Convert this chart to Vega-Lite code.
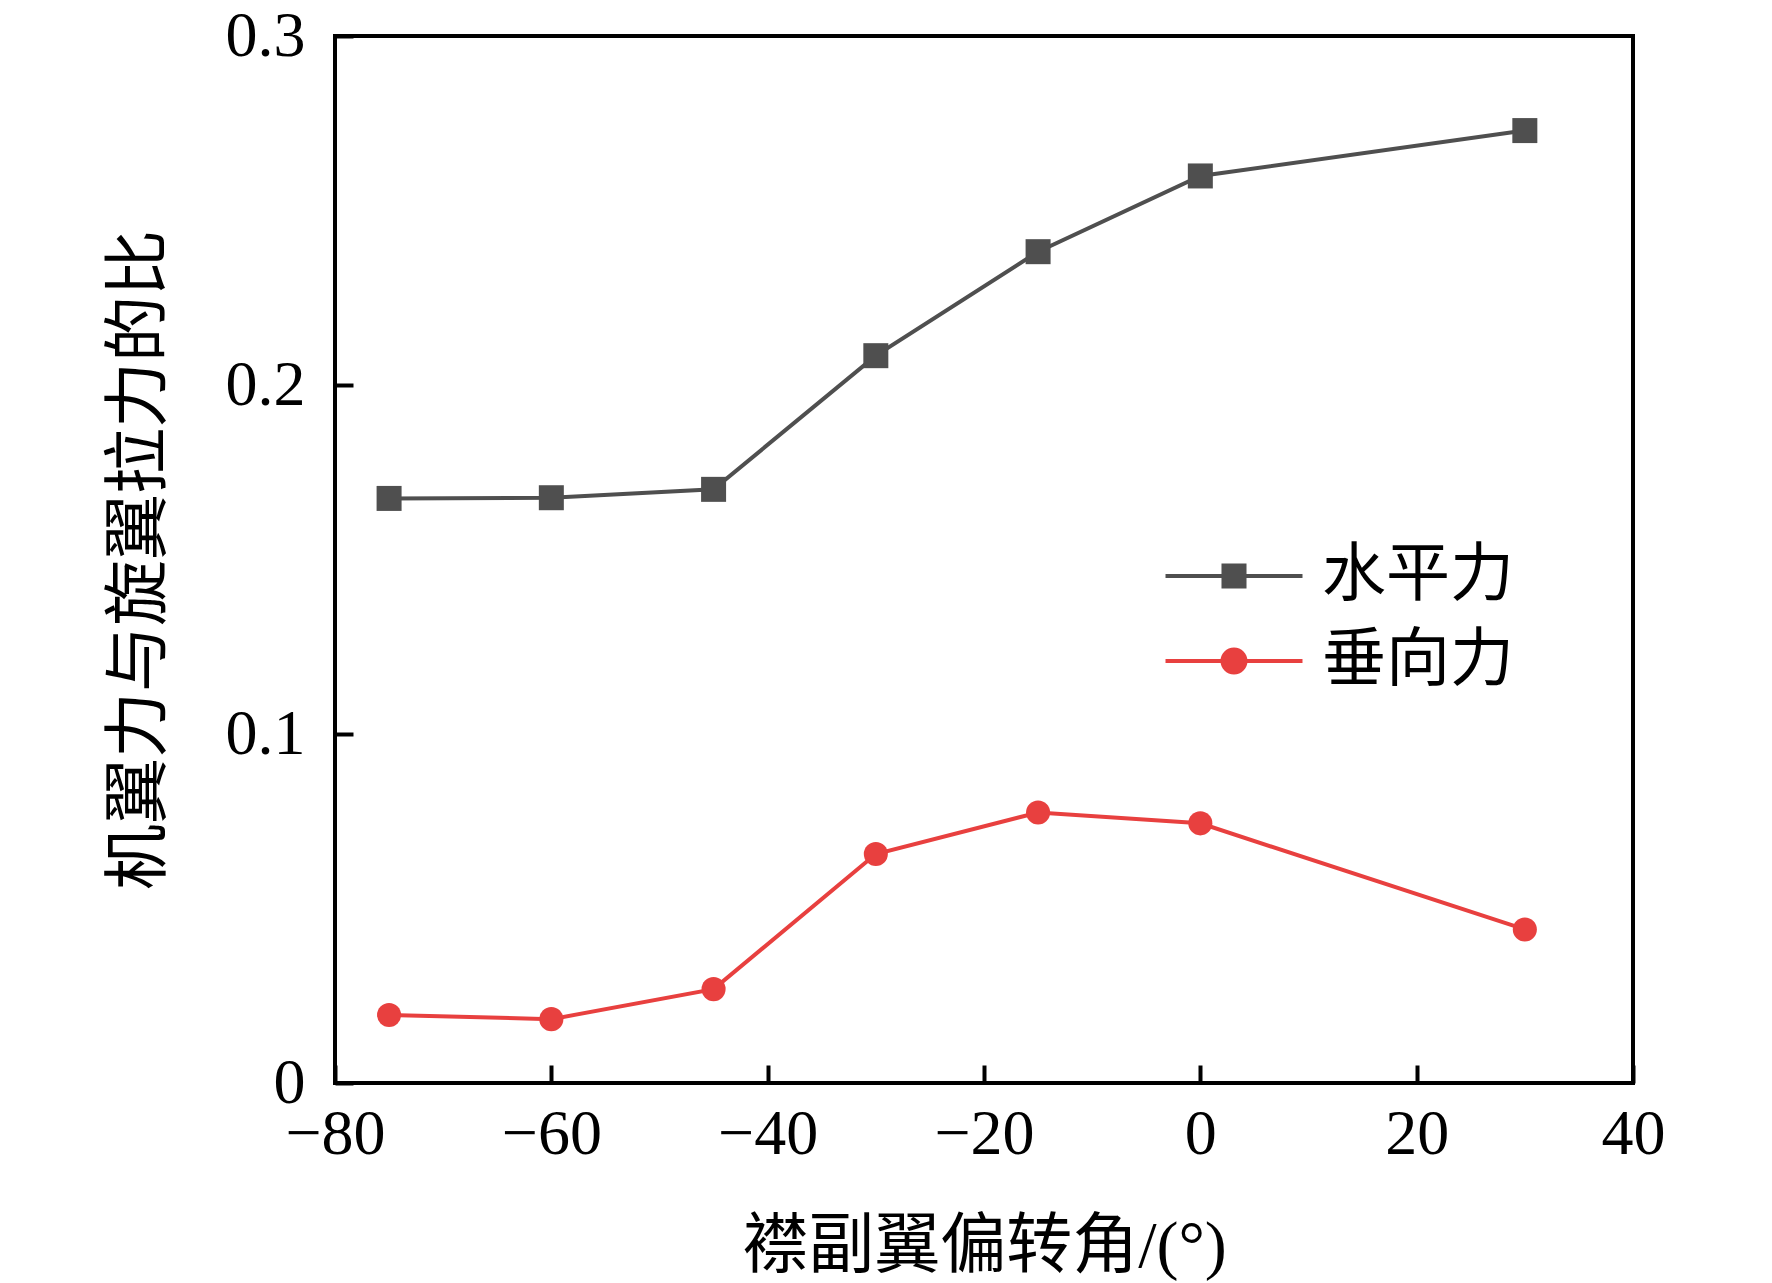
{
  "$schema": "https://vega.github.io/schema/vega-lite/v6.json",
  "width": 1298,
  "height": 1047,
  "autosize": "none",
  "padding": {"left": 335, "top": 36, "right": 139, "bottom": 200},
  "background": "white",
  "data": {
    "values": [
      {"angle": -75, "ratio": 0.1675, "series": "水平力"},
      {"angle": -60, "ratio": 0.1677, "series": "水平力"},
      {"angle": -45, "ratio": 0.1701, "series": "水平力"},
      {"angle": -30, "ratio": 0.2084, "series": "水平力"},
      {"angle": -15, "ratio": 0.2382, "series": "水平力"},
      {"angle": 0, "ratio": 0.2599, "series": "水平力"},
      {"angle": 30, "ratio": 0.2729, "series": "水平力"},
      {"angle": -75, "ratio": 0.0195, "series": "垂向力"},
      {"angle": -60, "ratio": 0.0183, "series": "垂向力"},
      {"angle": -45, "ratio": 0.0269, "series": "垂向力"},
      {"angle": -30, "ratio": 0.0656, "series": "垂向力"},
      {"angle": -15, "ratio": 0.0775, "series": "垂向力"},
      {"angle": 0, "ratio": 0.0744, "series": "垂向力"},
      {"angle": 30, "ratio": 0.044, "series": "垂向力"}
    ]
  },
  "encoding": {
    "x": {
      "field": "angle",
      "type": "quantitative",
      "scale": {"domain": [-80, 40], "nice": false, "zero": false},
      "axis": {
        "values": [-80, -60, -40, -20, 0, 20, 40],
        "title": "襟副翼偏转角/(°)",
        "labelPadding": 37,
        "titlePadding": 48
      }
    },
    "y": {
      "field": "ratio",
      "type": "quantitative",
      "scale": {"domain": [0, 0.3], "nice": false},
      "axis": {
        "values": [0, 0.1, 0.2, 0.3],
        "labelExpr": "datum.value == 0 ? '0' : format(datum.value, '.1f')",
        "title": "机翼力与旋翼拉力的比",
        "labelPadding": 48,
        "titlePadding": 52
      }
    },
    "color": {
      "field": "series",
      "type": "nominal",
      "scale": {"domain": ["水平力", "垂向力"], "range": ["#4f4f4f", "#e8403f"]},
      "legend": {
        "orient": "none",
        "legendX": 867,
        "legendY": 508,
        "title": null,
        "padding": 0,
        "symbolSize": 3600,
        "symbolStrokeWidth": 0,
        "symbolOpacity": 1,
        "labelOffset": 56,
        "labelLimit": 400,
        "labelFontSize": 64,
        "labelFont": "Liberation Serif, Noto Sans CJK SC",
        "labelColor": "black",
        "rowPadding": 21,
        "encode": {
          "symbols": {
            "update": {
              "fill": {"signal": "scale('color', datum.value)"},
              "fillOpacity": {"value": 1},
              "strokeWidth": {"value": 0},
              "shape": {
                "signal": "datum.value === '水平力' ? 'M-2.283,-0.067H2.283V0.067H-2.283Z M-0.417,-0.417H0.417V0.417H-0.417Z' : 'M-2.283,-0.067H2.283V0.067H-2.283Z M-0.45,0A0.45,0.45 0 1,1 0.45,0A0.45,0.45 0 1,1 -0.45,0Z'"
              }
            }
          }
        }
      }
    }
  },
  "layer": [
    {
      "mark": {"type": "line", "strokeWidth": 4}
    },
    {
      "transform": [{"filter": "datum.series === '水平力'"}],
      "mark": {"type": "point", "shape": "square", "filled": true, "opacity": 1, "size": 625}
    },
    {
      "transform": [{"filter": "datum.series === '垂向力'"}],
      "mark": {"type": "point", "shape": "circle", "filled": true, "opacity": 1, "size": 580}
    }
  ],
  "config": {
    "view": {"stroke": "black", "strokeWidth": 4},
    "axis": {
      "domain": false,
      "grid": false,
      "ticks": true,
      "tickSize": -18,
      "tickWidth": 4,
      "tickColor": "black",
      "labelFont": "Liberation Serif",
      "labelFontSize": 64,
      "labelColor": "black",
      "titleFont": "Liberation Serif, Noto Sans CJK SC",
      "titleFontSize": 66,
      "titleFontWeight": "normal",
      "titleColor": "black",
      "labelFlush": false,
      "labelOverlap": false
    }
  }
}
